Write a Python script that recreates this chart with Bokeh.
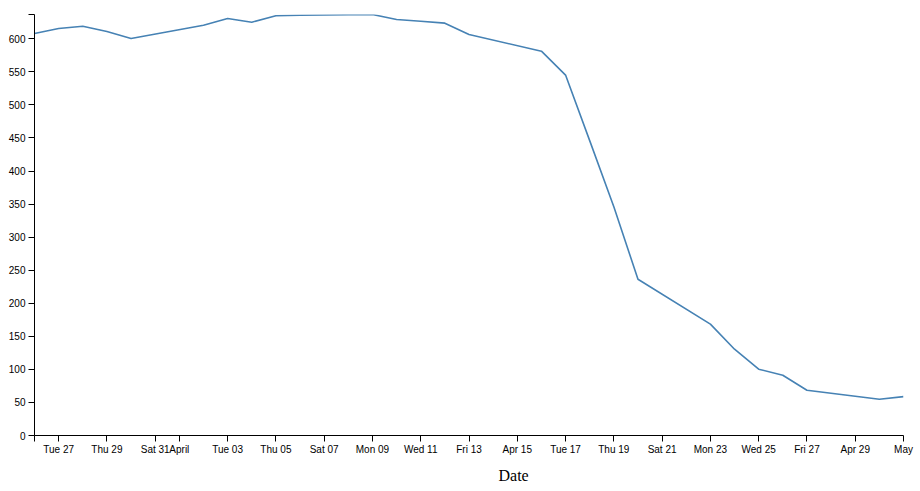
import pandas as pd
from bokeh.plotting import figure
from bokeh.models import Range1d, FixedTicker, Title
from bokeh.embed import file_html
from bokeh.resources import INLINE

# ---- data (business days) ----
dates = ["2018-03-26", "2018-03-27", "2018-03-28", "2018-03-29", "2018-03-30",
         "2018-04-02", "2018-04-03", "2018-04-04", "2018-04-05", "2018-04-06",
         "2018-04-09", "2018-04-10", "2018-04-11", "2018-04-12", "2018-04-13",
         "2018-04-16", "2018-04-17", "2018-04-18", "2018-04-19", "2018-04-20",
         "2018-04-23", "2018-04-24", "2018-04-25", "2018-04-26", "2018-04-27",
         "2018-04-30", "2018-05-01"]
values = [608.1, 615.6, 619.1, 611.1, 600.5,
          620.6, 630.8, 625.2, 634.9, 635.6,
          636.8, 629.3, 626.5, 623.7, 606.5,
          581.3, 545.2, 446.0, 346.0, 236.3,
          168.4, 130.5, 100.3, 91.2, 68.5,
          54.8, 58.8]

x_start = "2018-03-26"
x_end = "2018-05-01"

tick_dates = ["2018-03-27", "2018-03-29", "2018-03-31", "2018-04-01", "2018-04-03",
              "2018-04-05", "2018-04-07", "2018-04-09", "2018-04-11", "2018-04-13",
              "2018-04-15", "2018-04-17", "2018-04-19", "2018-04-21", "2018-04-23",
              "2018-04-25", "2018-04-27", "2018-04-29", "2018-05-01"]
tick_labels = ["Tue 27", "Thu 29", "Sat 31", "April", "Tue 03",
               "Thu 05", "Sat 07", "Mon 09", "Wed 11", "Fri 13",
               "Apr 15", "Tue 17", "Thu 19", "Sat 21", "Mon 23",
               "Wed 25", "Fri 27", "Apr 29", "May"]
y_ticks = [0, 50, 100, 150, 200, 250, 300, 350, 400, 450, 500, 550, 600]
x_title = "Date"


def to_ms(ds):
    return [float(v) for v in (pd.to_datetime(ds).astype("int64") // 10**6)]


xs = to_ms(dates)
x0 = to_ms([x_start])[0]
x1 = to_ms([x_end])[0]
xt = to_ms(tick_dates)
ymax = max(values)

p = figure(width=920, height=491, output_backend="svg", toolbar_location=None,
           min_border_left=34, min_border_right=17, min_border_top=14, min_border_bottom=56,
           x_range=Range1d(x0, x1), y_range=Range1d(0, ymax))
p.outline_line_color = None
p.grid.visible = False
p.background_fill_color = "white"
p.border_fill_color = "white"

p.line(xs, values, line_color="#4682b4", line_width=1.6)

# x axis (with D3-style outer tick at the domain start)
xa = p.xaxis[0]
xa.ticker = FixedTicker(ticks=[x0] + xt)
overrides = {x0: ""}
for t, lab in zip(xt, tick_labels):
    overrides[t] = lab
xa.major_label_overrides = overrides
xa.axis_line_color = "black"
xa.major_tick_line_color = "black"
xa.major_tick_out = 6
xa.major_tick_in = 0
xa.minor_tick_out = 0
xa.minor_tick_in = 0
xa.major_label_standoff = 2
xa.major_label_text_font = "Liberation Sans"
xa.major_label_text_font_size = "10px"
xa.major_label_text_color = "black"

ya = p.yaxis[0]
ya.ticker = FixedTicker(ticks=y_ticks + [ymax])
ya.major_label_overrides = {ymax: ""}
ya.axis_line_color = "black"
ya.major_tick_line_color = "black"
ya.major_tick_out = 6
ya.major_tick_in = 0
ya.minor_tick_out = 0
ya.minor_tick_in = 0
ya.major_label_standoff = 3
ya.major_label_text_font = "Liberation Sans"
ya.major_label_text_font_size = "10px"
ya.major_label_text_color = "black"

title = Title(text=x_title, align="left", offset=464, standoff=14,
              text_font="Liberation Serif", text_font_size="16px",
              text_font_style="normal", text_color="black")
p.add_layout(title, "below")

open("out.html", "w").write(file_html(p, INLINE))
